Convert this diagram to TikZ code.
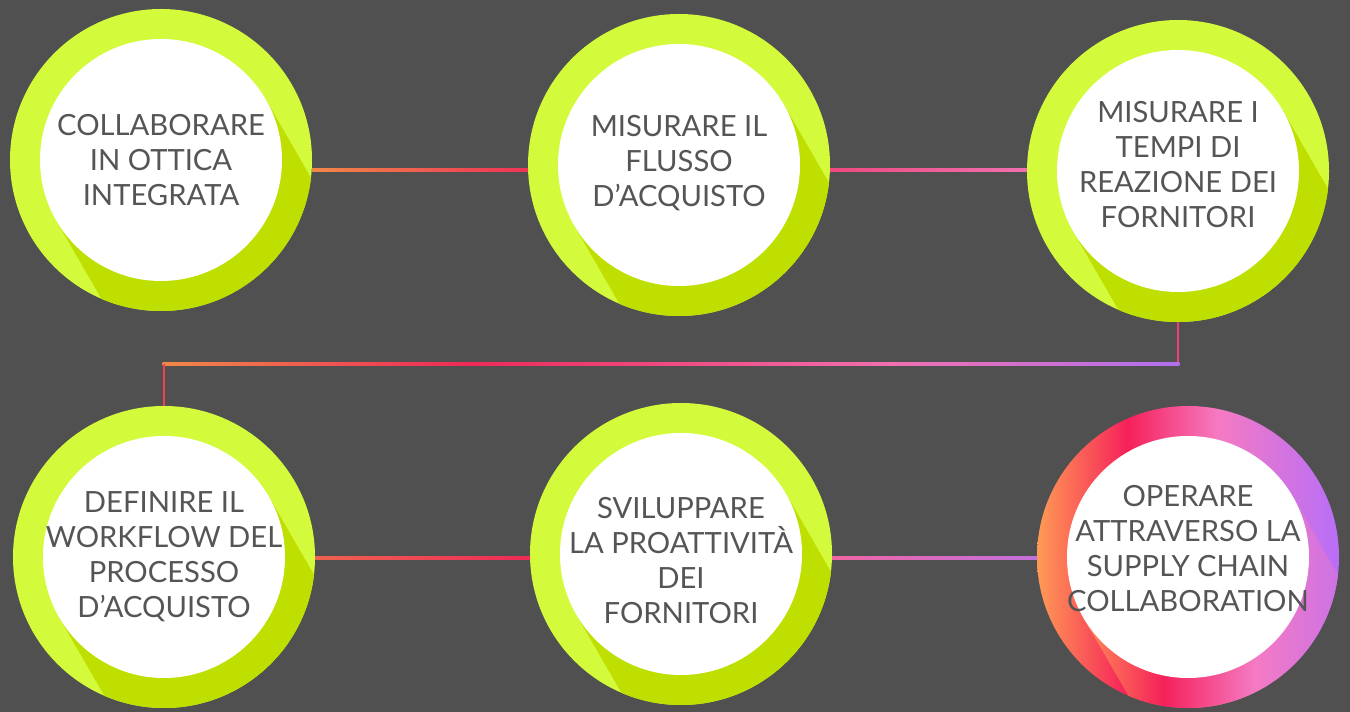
\documentclass[tikz,border=0pt]{standalone}
\usepackage{fontspec}
\setmainfont{Lato}
\usetikzlibrary{calc}

\definecolor{bggray}{HTML}{505050}
\definecolor{lime}{HTML}{D4FA3C}
\definecolor{limedark}{HTML}{BEDF00}
\definecolor{txtgray}{HTML}{555555}
\definecolor{lnorange}{HTML}{F08848}
\definecolor{lnred}{HTML}{EE2A58}
\definecolor{lnpink}{HTML}{F070B0}
\definecolor{lnpurple}{HTML}{B070F0}
\definecolor{rgorange}{HTML}{FF9A55}
\definecolor{rgred}{HTML}{F5215A}
\definecolor{rgpink}{HTML}{F57AC3}
\definecolor{rgpurple}{HTML}{B76EF7}
\colorlet{rgend}{rgpurple!65!rgpink}

\pgfdeclarehorizontalshading{ringgrad}{100bp}{color(0bp)=(rgorange); color(25bp)=(rgorange); color(40bp)=(rgred); color(55bp)=(rgpink); color(75bp)=(rgpurple); color(100bp)=(rgpurple)}
\pgfdeclarehorizontalshading{ringshade}{100bp}{color(0bp)=(rgorange); color(31bp)=(rgorange); color(46bp)=(rgred); color(61bp)=(rgpink); color(75bp)=(rgend); color(100bp)=(rgend)}
\pgfdeclarehorizontalshading{longline}{100bp}{color(0bp)=(lnorange); color(25bp)=(lnorange); color(40bp)=(lnred); color(61bp)=(lnpink); color(75bp)=(lnpurple); color(100bp)=(lnpurple)}

% band of shadow behind a disc, going down to the right
\newcommand{\shadowband}[1]{($(#1.center)+(30:121)$) -- ($(#1.center)+(30:121)+(-60:230)$) -- ($(#1.center)+(210:121)+(-60:230)$) -- ($(#1.center)+(210:121)$) -- cycle}

\begin{document}
\begin{tikzpicture}[x=1pt,y=1pt,
    ring/.style={circle,minimum size=302pt,inner sep=0pt,outer sep=0pt},
    limering/.style={ring,fill=lime},
    disc/.style={circle,fill=white,minimum size=242pt,inner sep=0pt},
    caption/.style={align=center,text=txtgray,font=\fontsize{29.2}{35}\selectfont}]
  \fill[bggray](0,0)rectangle(1350,712);
  \useasboundingbox(0,0)rectangle(1350,712);

  % rings
  \node[limering](r1)at(161,552){};
  \node[limering](r2)at(679,547){};
  \node[limering](r3)at(1178,541){};
  \node[limering](r4)at(164,155){};
  \node[limering](r5)at(681,158){};
  \node[ring](r6)at(1188,155){};
  \shade[shading=ringgrad](r6.center)circle(151);

  % shadows
  \foreach \r in {r1,r2,r3,r4,r5}{
    \begin{scope}
      \clip(\r.center)circle(151);
      \fill[limedark]\shadowband{\r};
    \end{scope}}
  \begin{scope}
    \clip(r6.center)circle(151);
    \clip\shadowband{r6};
    \shade[shading=ringshade]($(r6.center)+(-151,-151)$)rectangle($(r6.center)+(151,151)$);
  \end{scope}

  % discs
  \foreach \n in {1,...,6}
    \node[disc](c\n)at(r\n){};
  \node[caption](t1)at(c1){COLLABORARE\\IN OTTICA\\INTEGRATA};
  \node[caption](t2)at($(c2)+(0,2)$){MISURARE IL\\FLUSSO\\D’ACQUISTO};
  \node[caption](t3)at($(c3)+(0,6)$){MISURARE I\\TEMPI DI\\REAZIONE DEI\\FORNITORI};
  \node[caption](t4)at(c4){DEFINIRE IL\\WORKFLOW DEL\\PROCESSO\\D’ACQUISTO};
  \node[caption](t5)at($(c5)+(0,-7)$){SVILUPPARE\\LA PROATTIVITÀ\\DEI\\FORNITORI};
  \node[caption](t6)at($(c6)+(0,8)$){OPERARE\\ATTRAVERSO LA\\SUPPLY CHAIN\\COLLABORATION};

  % connectors
  \coordinate(toprow)at(0,542);
  \coordinate(turn)at(0,348);
  \coordinate(botrow)at(0,154);
  \shade[left color=lnorange,right color=lnred!90!lnorange]($(r1.east|-toprow)+(0,-1.3)$)rectangle($(r2.west|-toprow)+(0,1.3)$);
  \shade[left color=lnred!55!lnpink,right color=lnpink]($(r2.east|-toprow)+(0,-1.3)$)rectangle($(r3.west|-toprow)+(0,1.3)$);
  \draw[line width=2.6pt,color=lnred!70!lnpink](r3.south)--(r3.south|-turn);
  \shade[shading=longline]($(r4.north|-turn)+(-1.3,-1.3)$)rectangle($(r3.south|-turn)+(1.3,1.3)$);
  \draw[line width=2.6pt,color=lnred!75!lnorange](r4.north|-turn)--(r4.north);
  \shade[left color=lnorange!60!lnred,right color=lnred]($(r4.east|-botrow)+(0,-1.3)$)rectangle($(r5.west|-botrow)+(0,1.3)$);
  \shade[left color=lnpink!85!lnred,right color=lnpurple!70!lnpink]($(r5.east|-botrow)+(0,-1.3)$)rectangle($(r6.west|-botrow)+(0,1.3)$);
\end{tikzpicture}
\end{document}
